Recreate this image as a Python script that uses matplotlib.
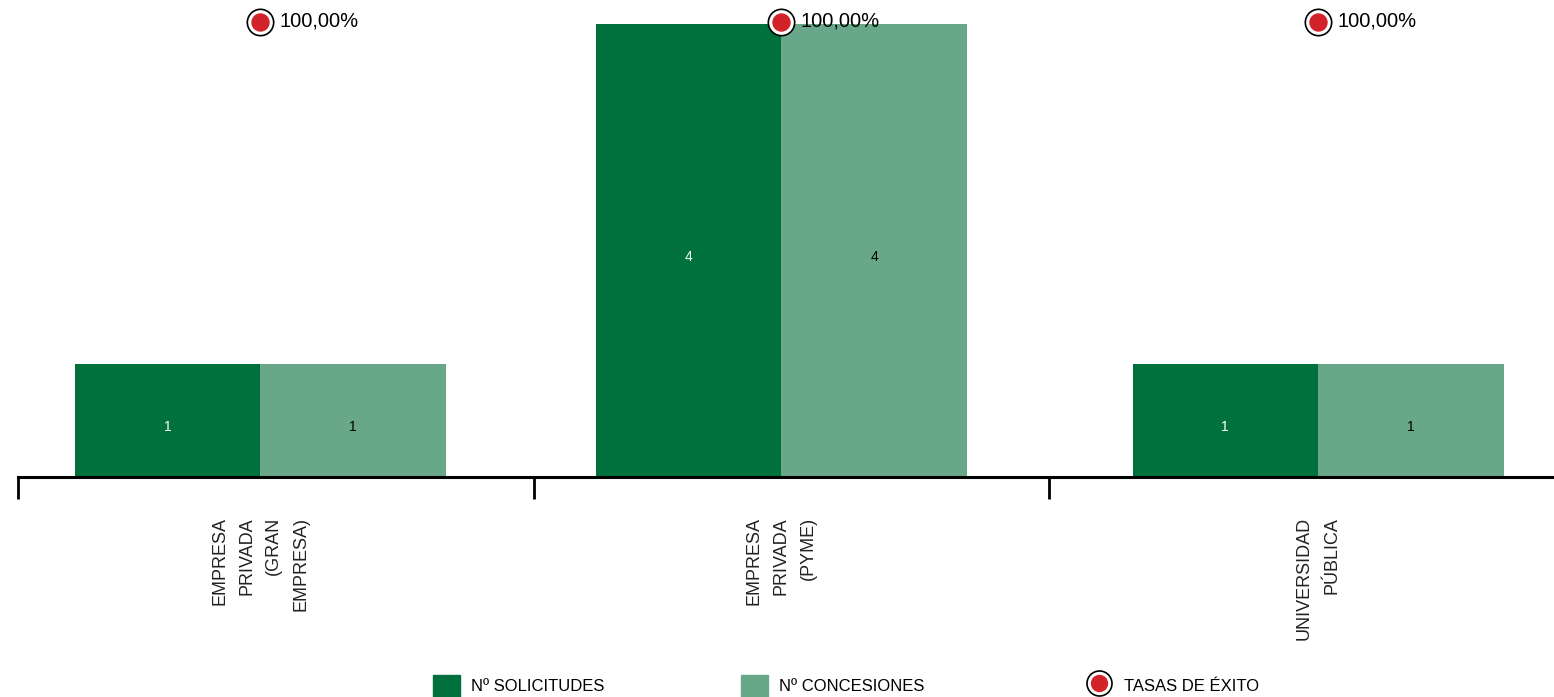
import matplotlib
matplotlib.use('Agg')
import matplotlib.pyplot as plt
from matplotlib.patches import Patch
from matplotlib.lines import Line2D
from matplotlib.legend_handler import HandlerTuple
import matplotlib.transforms as mtransforms

categories = ['EMPRESA\nPRIVADA\n(GRAN\nEMPRESA)', 'EMPRESA\nPRIVADA\n(PYME)', 'UNIVERSIDAD\nPÚBLICA']
solicitudes = [1, 4, 1]
concesiones = [1, 4, 1]
tasas = [100.0, 100.0, 100.0]
series_names = ['Nº SOLICITUDES', 'Nº CONCESIONES', 'TASAS DE ÉXITO']

dark = '#00703c'
light = '#68a889'
red = '#d2232a'

plt.rcParams['font.family'] = ['Liberation Sans', 'DejaVu Sans']

fig = plt.figure(figsize=(15.54, 6.97), dpi=100)
ax = fig.add_axes([18 / 1554, 220 / 697, 1 - 18 / 1554, 477 / 697])

centers = [0.470, 1.481, 2.522]
w = 0.36
b1 = ax.bar([c - w / 2 for c in centers], solicitudes, w, color=dark)
b2 = ax.bar([c + w / 2 for c in centers], concesiones, w, color=light)

for rect, v in zip(b1, solicitudes):
    ax.text(rect.get_x() + rect.get_width() / 2, v / 2 - 0.06, str(v),
            ha='center', va='center', color='white', fontsize=10)
for rect, v in zip(b2, concesiones):
    ax.text(rect.get_x() + rect.get_width() / 2, v / 2 - 0.06, str(v),
            ha='center', va='center', color='black', fontsize=10)

ax.set_xlim(0, 1536 / 515.5)
ax.set_ylim(0, 477 / 113.25)
for s in ['top', 'right', 'left']:
    ax.spines[s].set_visible(False)
ax.spines['bottom'].set_linewidth(2.2)
ax.set_yticks([])
ax.set_xticks([0, 1, 2])
ax.set_xticklabels([])
ax.tick_params(axis='x', direction='out', length=16, width=2, color='black')

# category labels, rotated
trans = mtransforms.blended_transform_factory(ax.transData, fig.transFigure)
for c, lab in zip(centers, categories):
    ax.text(c, 1 - 517 / 697, lab, transform=trans, rotation=90,
            ha='center', va='top', multialignment='right',
            fontsize=13, linespacing=1.78, color='#222222')

# success rate markers on a twin axis
ax2 = ax.twinx()
ax2.set_ylim(0, 100 * 477 / 455)
ax2.axis('off')
ax2.scatter(centers, tasas, s=360, color='white', edgecolors='black', linewidths=1.2, zorder=3)
ax2.scatter(centers, tasas, s=150, color=red, zorder=4)
for c, t in zip(centers, tasas):
    ax2.annotate('{:.2f}%'.format(t).replace('.', ','), (c, t), xytext=(14, 1),
                 textcoords='offset points', ha='left', va='center', fontsize=14.5)

handles = [Patch(color=dark), Patch(color=light),
           (Line2D([], [], marker='o', ls='', ms=18, mfc='white', mec='black', mew=1.2),
            Line2D([], [], marker='o', ls='', ms=11.5, mfc=red, mec=red))]
legend_x = [433, 741, 1086]
for h, name, x in zip(handles, series_names, legend_x):
    leg = fig.legend([h], [name], loc='center left', bbox_to_anchor=(x / 1554, 1 - 686 / 697),
                     frameon=False, fontsize=12, borderaxespad=0, borderpad=0,
                     handlelength=1.6, handleheight=1.6, handletextpad=0.7,
                     handler_map={tuple: HandlerTuple(ndivide=1)})

fig.savefig('out.png', dpi=100)
